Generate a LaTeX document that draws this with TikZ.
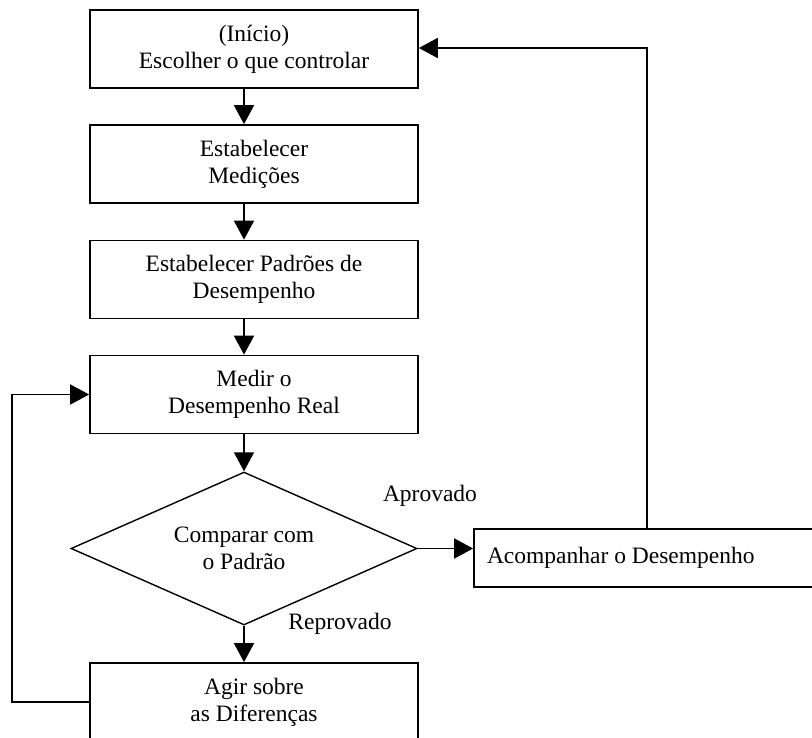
\documentclass[tikz,border=0pt]{standalone}
\usepackage{fontspec}
\setmainfont{Liberation Serif}
\usetikzlibrary{arrows.meta, shapes.geometric}

\begin{document}
\begin{tikzpicture}[
    x=1pt, y=-1pt,
    box/.style={rectangle, draw, line width=1.7pt, align=center,
                minimum width=328pt, minimum height=78pt, inner sep=0pt},
    decision/.style={diamond, draw, line width=1.4pt, align=center, aspect=2.26,
                minimum width=346pt, minimum height=153pt, inner sep=0pt},
    flow/.style={line width=1.7pt, -{Triangle[length=19pt, width=20pt]}},
    lbl/.style={inner sep=0pt},
    every node/.style={font=\fontsize{23.5}{27}\selectfont},
  ]
    \useasboundingbox (0,0) rectangle (812,737);
    \clip (0,0) rectangle (812,737);

    \node[box] (inicio) at (254,49) {(Início)\\Escolher o que controlar};
    \node[box] (medicoes) at (254,164) {Estabelecer\\Medições};
    \node[box] (padroes) at (254,279.5) {Estabelecer Padrões de\\Desempenho};
    \node[box] (medir) at (254,394.5) {Medir o\\Desempenho Real};
    \node[decision] (comparar) at (244,548.5) {Comparar com\\o Padrão};
    \node[box, minimum width=0pt, minimum height=58pt, text width=320pt,
          align=flush left, inner xsep=13pt] (acomp) at (647,558)
      {Acompanhar o Desempenho};
    \node[box] (agir) at (254,702) {Agir sobre\\as Diferenças};

    \node[lbl] (aprov) at (430,496) {Aprovado};
    \node[lbl] (reprov) at (340,624) {Reprovado};

    \coordinate (volta) at (647,48);

    \draw[flow] (inicio.south -| comparar) -- (medicoes.north -| comparar);
    \draw[flow] (medicoes.south -| comparar) -- (padroes.north -| comparar);
    \draw[flow] (padroes.south -| comparar) -- (medir.north -| comparar);
    \draw[flow] (medir.south -| comparar) -- (comparar.north);
    \draw[flow] (comparar.east) -- (acomp.west |- comparar.east);
    \draw[flow] (comparar.south) -- (agir.north -| comparar);
    \draw[flow] (agir.west) -- ++(-77,0) |- (medir.west);
    \draw[flow] (acomp.north) -- (volta) -- (inicio.east |- volta);
  \end{tikzpicture}
\end{document}
